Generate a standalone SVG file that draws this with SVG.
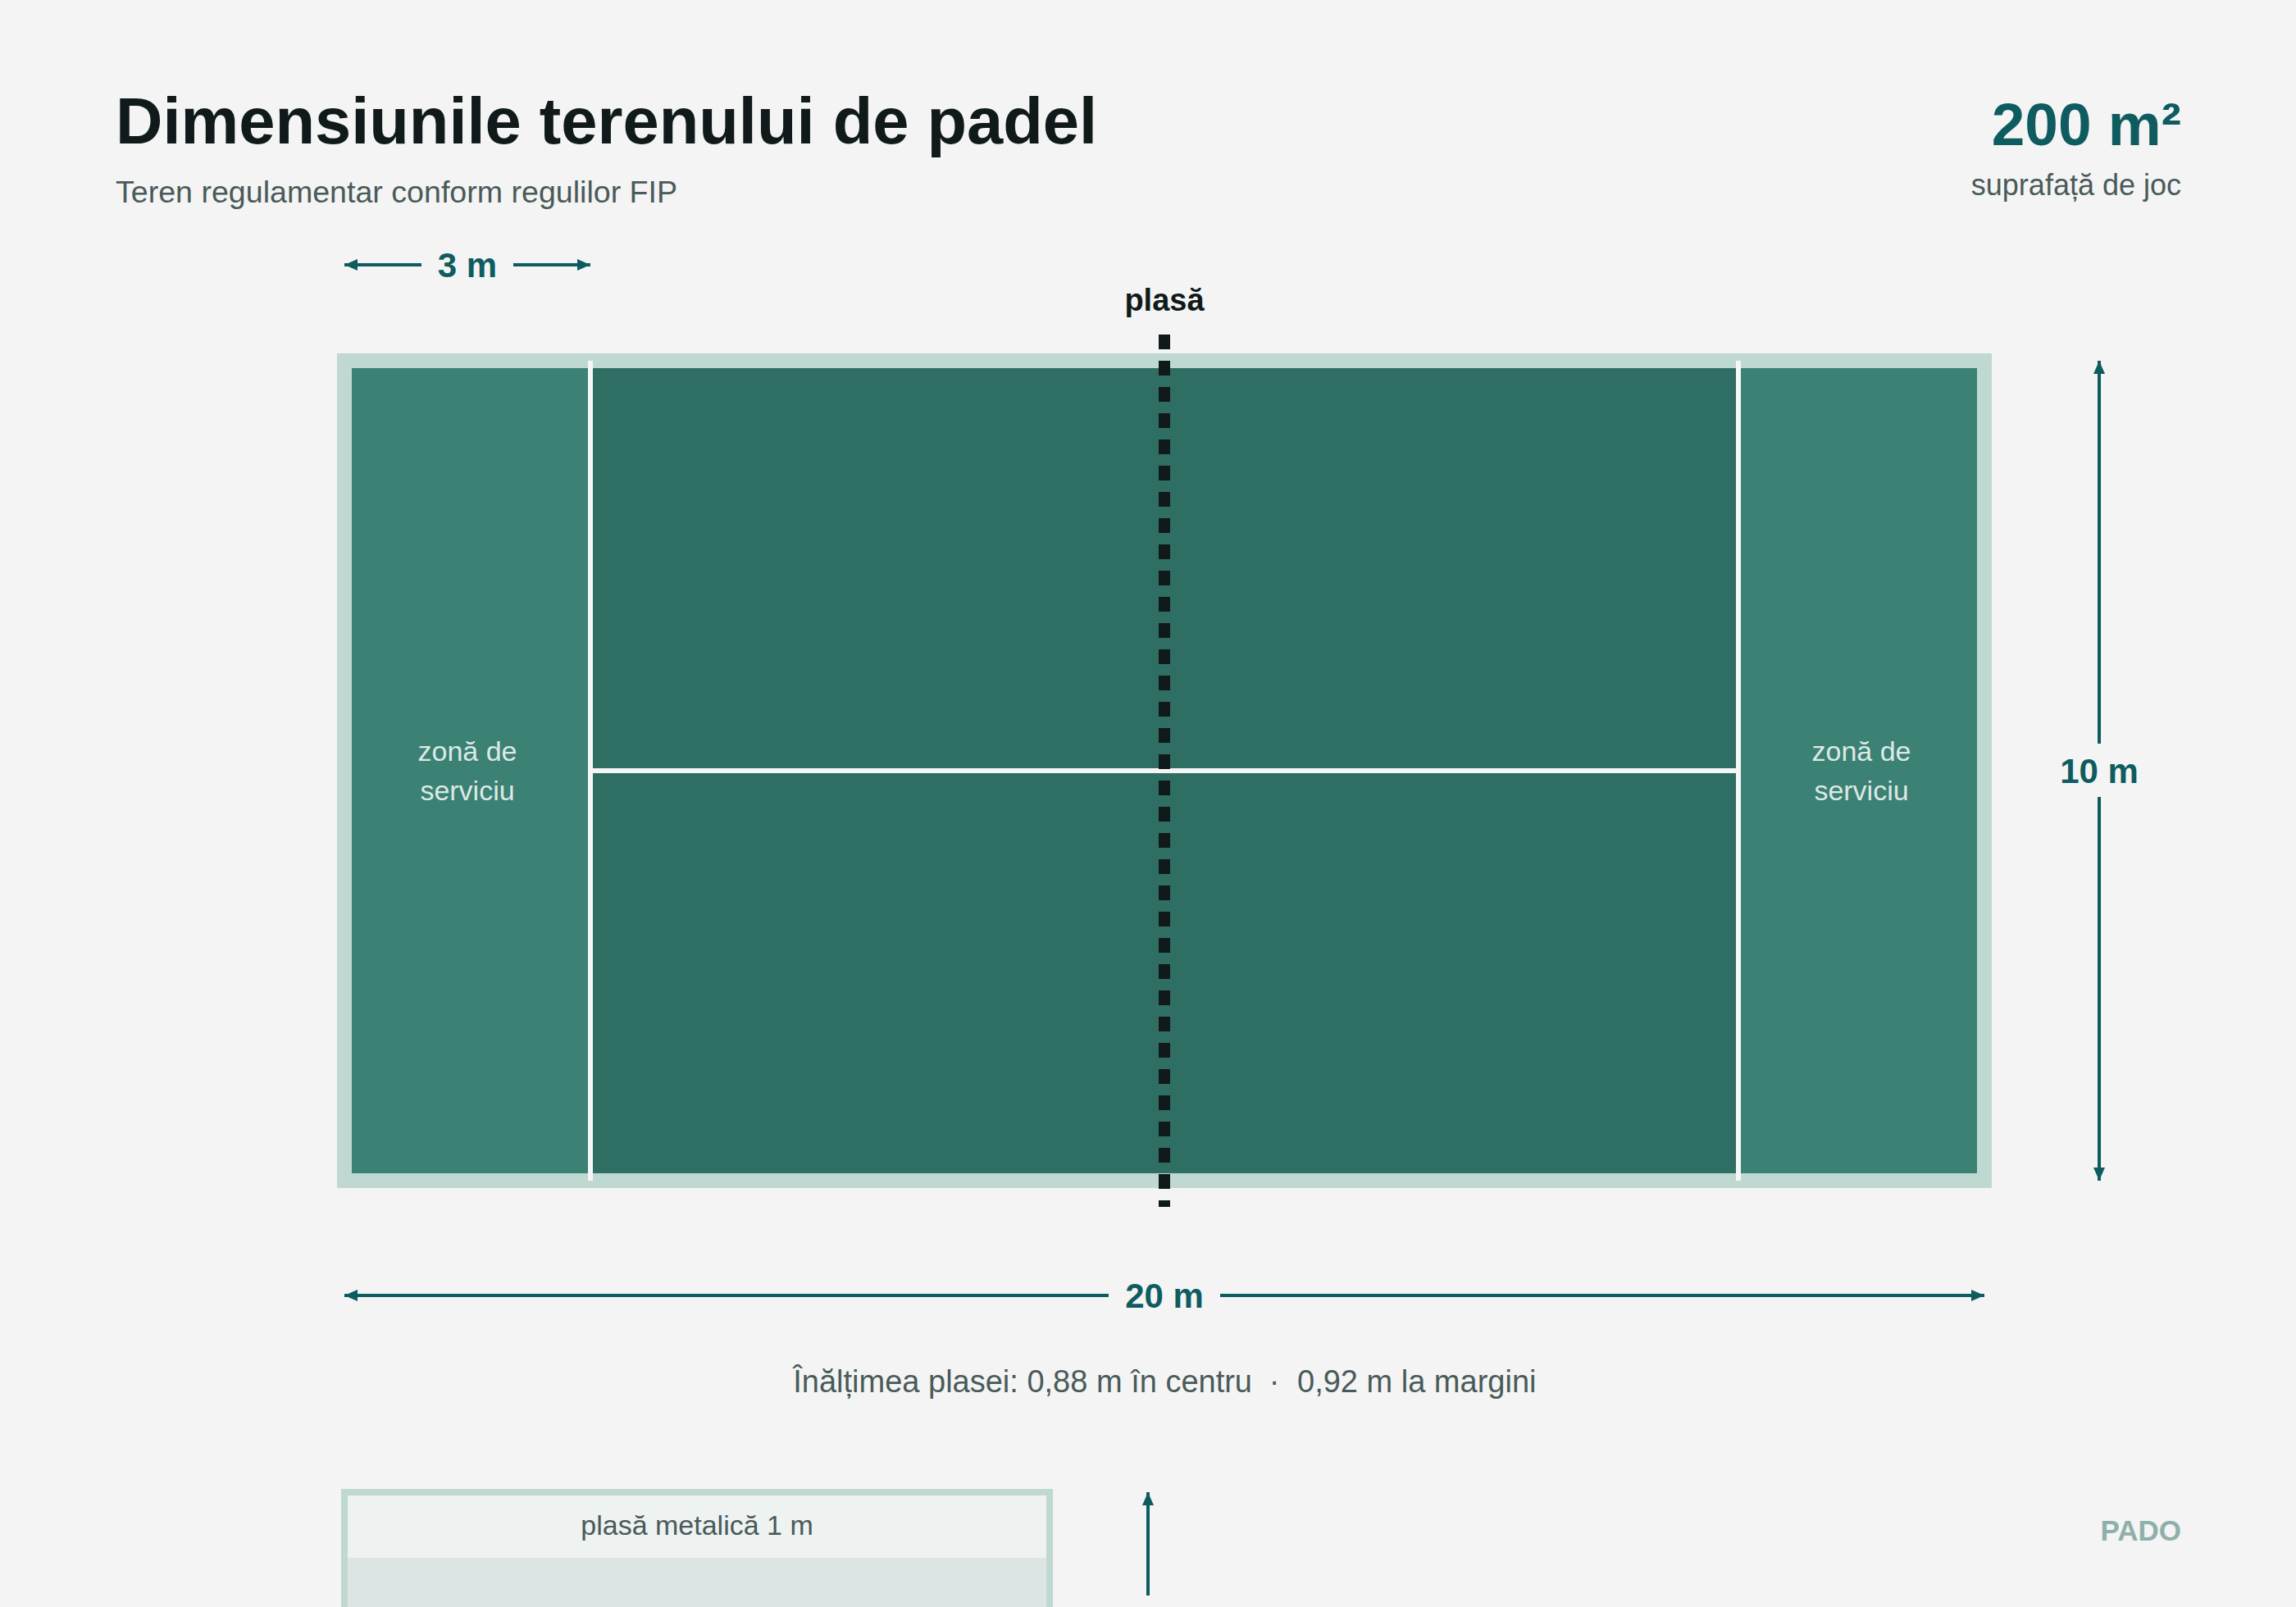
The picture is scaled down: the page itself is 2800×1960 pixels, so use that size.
<svg xmlns="http://www.w3.org/2000/svg" width="2800" height="1960" viewBox="0 0 2800 1960">
<style>
.t{font-family:"Liberation Sans",Arial,sans-serif}
.title{font-size:79.5px;font-weight:700;fill:#111a1a}
.sub{font-size:37.6px;fill:#4a5a5a}
.stat{font-size:73px;font-weight:700;fill:#0f5c60}
.dim{font-size:42px;font-weight:700;fill:#0f5c60}
.zone{font-size:34px;fill:#dce9e5}
.net{font-size:38px;font-weight:700;fill:#111a1a}
.note{font-size:38px;fill:#4a5a5a}
.small{font-size:34px;fill:#4a5a5a}
.brand{font-size:35px;font-weight:700;fill:#8fafad}
.dl{stroke:#0f5c60;stroke-width:4;fill:none;marker-end:url(#ah)}
.wl{stroke:#f5f6f5;stroke-width:6}
</style>
<defs>
<marker id="ah" markerUnits="userSpaceOnUse" markerWidth="16" markerHeight="14" viewBox="0 0 16 14" refX="16" refY="7" orient="auto">
<path d="M0,0 L16,7 L0,14 z" fill="#0f5c60"/>
</marker>
</defs>
<rect width="2800" height="1960" fill="#f3f4f3"/>

<g id="header">
<text class="t title" x="141" y="175">Dimensiunile terenului de padel</text>
<text class="t sub" x="141" y="247">Teren regulamentar conform regulilor FIP</text>
</g>
<g id="stat">
<text class="t stat" x="2660" y="177" text-anchor="end">200 m²</text>
<text class="t sub" x="2660" y="238" text-anchor="end" style="font-size:36px">suprafață de joc</text>
</g>

<g id="court">
<rect x="420" y="440" width="2000" height="1000" fill="#2f6e63" stroke="#c0d8d2" stroke-width="18"/>
<rect x="429" y="449" width="291" height="982" fill="#3b8174"/>
<rect x="2120" y="449" width="291" height="982" fill="#3b8174"/>
<line class="wl" x1="720" y1="440" x2="720" y2="1440"/>
<line class="wl" x1="2120" y1="440" x2="2120" y2="1440"/>
<line class="wl" x1="720" y1="940" x2="2120" y2="940"/>
</g>

<g id="zone-left">
<text class="t zone" x="570" y="928" text-anchor="middle">zonă de</text>
<text class="t zone" x="570" y="976" text-anchor="middle">serviciu</text>
</g>
<g id="zone-right">
<text class="t zone" x="2270" y="928" text-anchor="middle">zonă de</text>
<text class="t zone" x="2270" y="976" text-anchor="middle">serviciu</text>
</g>

<g id="net">
<line x1="1420" y1="408" x2="1420" y2="1472" stroke="#111a1a" stroke-width="14" stroke-dasharray="18 14"/>
<text class="t net" x="1420" y="379" text-anchor="middle">plasă</text>
</g>

<g id="connectors">
<line class="dl" x1="514" y1="323" x2="420" y2="323"/>
<line class="dl" x1="626" y1="323" x2="720" y2="323"/>
<line class="dl" x1="2560" y1="907" x2="2560" y2="440"/>
<line class="dl" x1="2560" y1="972" x2="2560" y2="1440"/>
<line class="dl" x1="1352" y1="1580" x2="420" y2="1580"/>
<line class="dl" x1="1488" y1="1580" x2="2420" y2="1580"/>
<line class="dl" x1="1400" y1="1946" x2="1400" y2="1820"/>
</g>

<g id="dim-labels">
<text class="t dim" x="570" y="338" text-anchor="middle">3 m</text>
<text class="t dim" x="2560" y="955" text-anchor="middle">10 m</text>
<text class="t dim" x="1420" y="1595" text-anchor="middle">20 m</text>
</g>

<g id="net-height">
<text class="t note" x="1527" y="1698" text-anchor="end">Înălțimea plasei: 0,88 m în centru</text>
<text class="t note" x="1554" y="1698" text-anchor="middle">·</text>
<text class="t note" x="1582" y="1698">0,92 m la margini</text>
</g>

<g id="fence">
<rect x="420" y="1820" width="860" height="200" fill="#dce5e3" stroke="#c0d8d2" stroke-width="8"/>
<rect x="424" y="1824" width="852" height="76" fill="#eef2f1"/>
<text class="t small" x="850" y="1872" text-anchor="middle">plasă metalică 1 m</text>
</g>

<g id="brand">
<text class="t brand" x="2660" y="1879" text-anchor="end">PADO</text>
</g>
</svg>
